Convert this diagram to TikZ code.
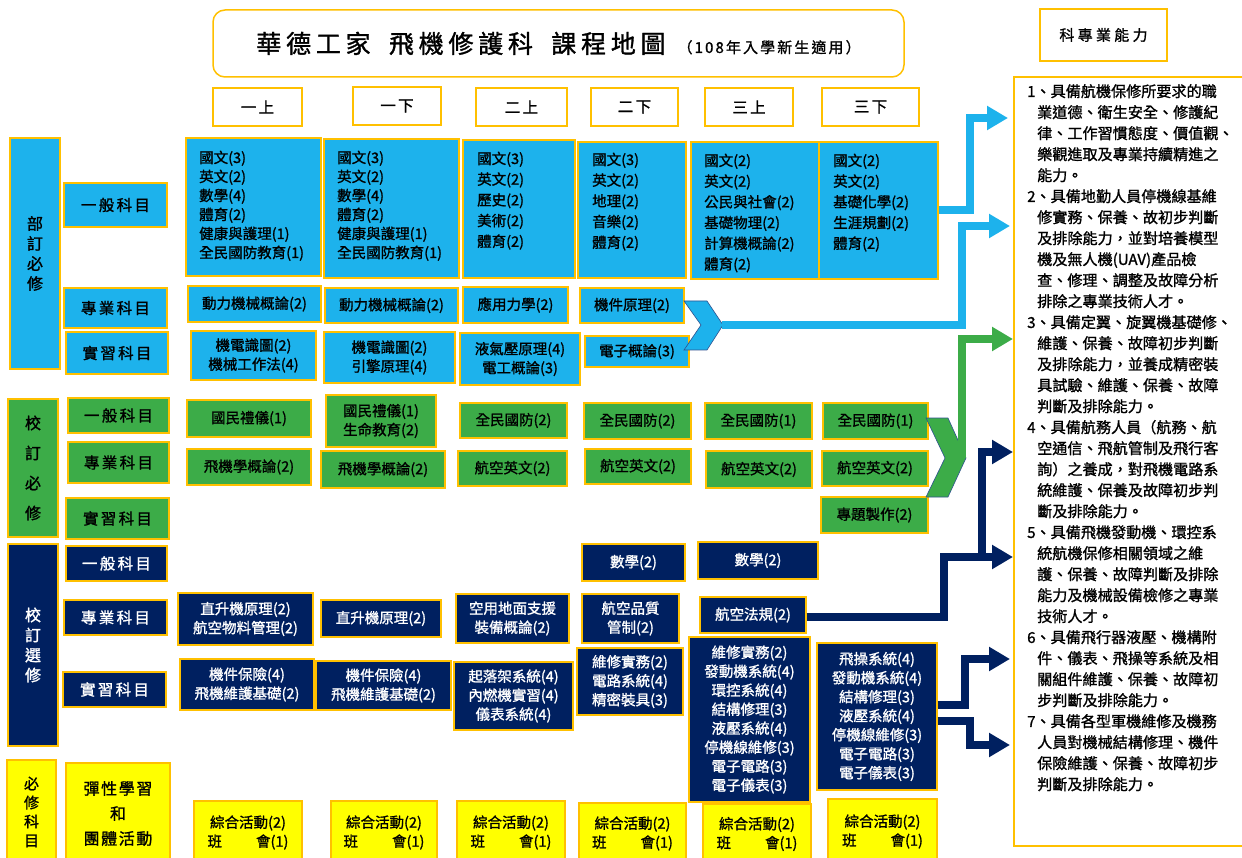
\documentclass[tikz,border=0pt]{standalone}
\usepackage{fontspec}
\setmainfont{Noto Sans CJK TC}[FakeBold=1.2]
\usetikzlibrary{arrows.meta}
\definecolor{lblue}{RGB}{29,178,236}
\definecolor{grn}{RGB}{60,172,72}
\definecolor{navy}{RGB}{0,32,96}
\definecolor{ylw}{RGB}{255,255,0}
\definecolor{gold}{RGB}{255,192,0}
\definecolor{chevb}{RGB}{47,82,143}
\newcommand\Bx[6]{\node[#2, minimum width=#5pt-#3pt, minimum height=#6pt-#4pt] (#1) at ({(#3+#5)/2},{(#4+#6)/2})}
\newcommand\ii{\hspace*{10pt}}
\begin{document}
\begin{tikzpicture}[x=1pt,y=-1pt,
  bx/.style={draw=gold, line width=1.3pt, inner sep=0pt, align=center},
  lb/.style={bx, fill=lblue},
  gn/.style={bx, fill=grn},
  nv/.style={bx, fill=navy, text=white},
  yl/.style={bx, fill=ylw},
  wb/.style={bx, fill=white},
  txt/.style={inner sep=0pt, align=left, anchor=north west},
  fa/.style={font=\fontsize{14.5}{19}\selectfont},
  fb/.style={font=\fontsize{14.5}{20.7}\selectfont},
  hd/.style={font=\fontsize{15.5}{19}\selectfont\addfontfeature{LetterSpace=15}},
  conn/.style={line width=8pt, line join=miter, -{Triangle[length=21pt,width=23pt]}},
]
\useasboundingbox (0,0) rectangle (1242,858);
\fill[white] (0,0) rectangle (1242,858);

% header
\Bx{title}{wb,rounded corners=12pt,line width=1.5pt}{213}{10}{904}{77}{{\fontsize{25}{25}\selectfont\addfontfeature{LetterSpace=19}華德工家\hspace{8pt} 飛機修護科\hspace{8pt} 課程地圖}\hspace{12pt}{\fontsize{15}{15}\selectfont\addfontfeature{LetterSpace=14}（108年入學新生適用）}};
\Bx{ability}{wb,font=\fontsize{15}{15}\selectfont\addfontfeature{LetterSpace=22}}{1040}{9}{1167}{61}{科專業能力};
\Bx{s1}{wb,hd}{213}{88}{302}{126}{一上};
\Bx{s2}{wb,hd}{353}{87}{441}{125}{一下};
\Bx{s3}{wb,hd}{476}{88}{567}{126}{二上};
\Bx{s4}{wb,hd}{591}{88}{678}{126}{二下};
\Bx{s5}{wb,hd}{705}{88}{793}{126}{三上};
\Bx{s6}{wb,hd}{822}{88}{919}{126}{三下};

% right panel
\Bx{panel}{wb}{1014}{77}{1252}{846}{};
\node[txt, font=\fontsize{15.1}{21}\selectfont] (paneltext) at (1027,84) {%
1、具備航機保修所要求的職\\
\ii 業道德、衛生安全、修護紀\\
\ii 律、工作習慣態度、價值觀、\\
\ii 樂觀進取及專業持續精進之\\
\ii 能力。\\
2、具備地勤人員停機線基維\\
\ii 修實務、保養、故初步判斷\\
\ii 及排除能力，並對培養模型\\
\ii 機及無人機(UAV)產品檢\\
\ii 查、修理、調整及故障分析\\
\ii 排除之專業技術人才。\\
3、具備定翼、旋翼機基礎修、\\
\ii 維護、保養、故障初步判斷\\
\ii 及排除能力，並養成精密裝\\
\ii 具試驗、維護、保養、故障\\
\ii 判斷及排除能力。\\
4、具備航務人員（航務、航\\
\ii 空通信、飛航管制及飛行客\\
\ii 詢）之養成，對飛機電路系\\
\ii 統維護、保養及故障初步判\\
\ii 斷及排除能力。\\
5、具備飛機發動機、環控系\\
\ii 統航機保修相關領域之維\\
\ii 護、保養、故障判斷及排除\\
\ii 能力及機械設備檢修之專業\\
\ii 技術人才。\\
6、具備飛行器液壓、機構附\\
\ii 件、儀表、飛操等系統及相\\
\ii 關組件維護、保養、故障初\\
\ii 步判斷及排除能力。\\
7、具備各型軍機維修及機務\\
\ii 人員對機械結構修理、機件\\
\ii 保險維護、保養、故障初步\\
\ii 判斷及排除能力。};

% 部訂必修
\Bx{bd}{lb,font=\fontsize{16}{20}\selectfont}{10}{138}{60}{369}{部\\訂\\必\\修};
\Bx{bd1}{lb,hd}{64}{183}{167}{227}{一般科目};
\Bx{bd2}{lb,hd}{64}{288}{167}{328}{專業科目};
\Bx{bd3}{lb,hd}{66}{332}{168}{374}{實習科目};

\Bx{g1}{lb}{186}{138}{321}{276}{};
\Bx{g2}{lb}{324}{139}{459}{278}{};
\Bx{g3}{lb}{463}{140}{575}{278}{};
\Bx{g4}{lb}{578}{142}{686}{278}{};
\Bx{g5}{lb}{691}{142}{819}{279}{};
\Bx{g6}{lb}{819}{142}{938}{279}{};
\node[txt,fa] (g1t) at (199,150.5) {國文(3)\\英文(2)\\數學(4)\\體育(2)\\健康與護理(1)\\全民國防教育(1)};
\node[txt,fa] (g2t) at (337,150.5) {國文(3)\\英文(2)\\數學(4)\\體育(2)\\健康與護理(1)\\全民國防教育(1)};
\node[txt,fb] (g3t) at (477,151.5) {國文(3)\\英文(2)\\歷史(2)\\美術(2)\\體育(2)};
\node[txt,fb] (g4t) at (592,152.5) {國文(3)\\英文(2)\\地理(2)\\音樂(2)\\體育(2)};
\node[txt,fb] (g5t) at (704,153.5) {國文(2)\\英文(2)\\公民與社會(2)\\基礎物理(2)\\計算機概論(2)\\體育(2)};
\node[txt,fb] (g6t) at (833,153.5) {國文(2)\\英文(2)\\基礎化學(2)\\生涯規劃(2)\\體育(2)};

\Bx{p1}{lb,fa}{188}{286}{321}{322}{動力機械概論(2)};
\Bx{p2}{lb,fa}{325}{288}{458}{323}{動力機械概論(2)};
\Bx{p3}{lb,fa}{463}{287}{568}{323}{應用力學(2)};
\Bx{p4}{lb,fa}{580}{288}{684}{323}{機件原理(2)};
\Bx{r1}{lb,fa}{191}{331}{316}{380}{機電識圖(2)\\機械工作法(4)};
\Bx{r2}{lb,fa}{324}{332}{455}{383}{機電識圖(2)\\引擎原理(4)};
\Bx{r3}{lb,fa}{460}{333}{580}{385}{液氣壓原理(4)\\電工概論(3)};
\Bx{r4}{lb,fa}{585}{336}{689}{367}{電子概論(3)};

% 校訂必修
\Bx{gl}{gn,font=\fontsize{16}{30}\selectfont}{8}{399}{58}{537}{校\\訂\\必\\修};
\Bx{gl1}{gn,hd}{68}{398}{169}{433}{一般科目};
\Bx{gl2}{gn,hd}{68}{442}{169}{483}{專業科目};
\Bx{gl3}{gn,hd}{66}{498}{169}{539}{實習科目};
\Bx{c1}{gn,fa}{187}{400}{311}{437}{國民禮儀(1)};
\Bx{c2}{gn,fa}{326}{395}{436}{447}{國民禮儀(1)\\生命教育(2)};
\Bx{c3}{gn,fa}{460}{403}{567}{438}{全民國防(2)};
\Bx{c4}{gn,fa}{584}{403}{691}{439}{全民國防(2)};
\Bx{c5}{gn,fa}{705}{403}{812}{439}{全民國防(1)};
\Bx{c6}{gn,fa}{823}{403}{928}{439}{全民國防(1)};
\Bx{e1}{gn,fa}{187}{449}{311}{485}{飛機學概論(2)};
\Bx{e2}{gn,fa}{321}{451}{445}{488}{飛機學概論(2)};
\Bx{e3}{gn,fa}{458}{451}{567}{486}{航空英文(2)};
\Bx{e4}{gn,fa}{585}{449}{691}{484}{航空英文(2)};
\Bx{e5}{gn,fa}{706}{451}{812}{488}{航空英文(2)};
\Bx{e6}{gn,fa}{822}{451}{928}{486}{航空英文(2)};
\Bx{x6}{gn,fa}{821}{497}{928}{533}{專題製作(2)};

% 校訂選修
\Bx{nl}{nv,font=\fontsize{16}{20}\selectfont}{8}{544}{58}{746}{校\\訂\\選\\修};
\Bx{nl1}{nv,hd}{66}{546}{167}{581}{一般科目};
\Bx{nl2}{nv,hd}{64}{600}{167}{635}{專業科目};
\Bx{nl3}{nv,hd}{63}{672}{166}{707}{實習科目};
\Bx{m4}{nv,fa}{582}{544}{685}{581}{數學(2)};
\Bx{m5}{nv,fa}{698}{542}{818}{579}{數學(2)};
\Bx{q1}{nv,fa}{178}{593}{313}{645}{直升機原理(2)\\航空物料管理(2)};
\Bx{q2}{nv,fa}{321}{600}{441}{637}{直升機原理(2)};
\Bx{q3}{nv,fa}{456}{594}{569}{643}{空用地面支援\\裝備概論(2)};
\Bx{q4}{nv,fa}{582}{594}{679}{643}{航空品質\\管制(2)};
\Bx{law}{nv,fa}{700}{597}{806}{633}{航空法規(2)};
\Bx{k1}{nv,fa}{180}{659}{314}{710}{機件保險(4)\\飛機維護基礎(2)};
\Bx{k2}{nv,fa}{316}{661}{451}{710}{機件保險(4)\\飛機維護基礎(2)};
\Bx{k3}{nv,fa}{454}{662}{573}{730}{起落架系統(4)\\內燃機實習(4)\\儀表系統(4)};
\Bx{k4}{nv,fa}{577}{648}{683}{715}{維修實務(2)\\電路系統(4)\\精密裝具(3)};
\Bx{k5}{nv,fa}{689}{637}{810}{802}{維修實務(2)\\發動機系統(4)\\環控系統(4)\\結構修理(3)\\液壓系統(4)\\停機線維修(3)\\電子電路(3)\\電子儀表(3)};
\Bx{k6}{nv,fa}{817}{643}{937}{790}{飛操系統(4)\\發動機系統(4)\\結構修理(3)\\液壓系統(4)\\停機線維修(3)\\電子電路(3)\\電子儀表(3)};

% 必修科目
\Bx{yl}{yl,font=\fontsize{15}{19}\selectfont}{7}{760}{56}{864}{必\\修\\科\\目};
\Bx{yl1}{yl,font=\fontsize{16}{25}\selectfont\addfontfeature{LetterSpace=10}}{66}{763}{170}{864}{彈性學習\\和\\團體活動};
\Bx{y1}{yl,fa}{194}{801}{302}{864}{綜合活動(2)\\班\hspace{34pt}會(1)};
\Bx{y2}{yl,fa}{331}{801}{437}{864}{綜合活動(2)\\班\hspace{34pt}會(1)};
\Bx{y3}{yl,fa}{457}{801}{565}{864}{綜合活動(2)\\班\hspace{34pt}會(1)};
\Bx{y4}{yl,fa}{579}{803}{686}{864}{綜合活動(2)\\班\hspace{34pt}會(1)};
\Bx{y5}{yl,fa}{703}{804}{811}{864}{綜合活動(2)\\班\hspace{34pt}會(1)};
\Bx{y6}{yl,fa}{828}{799}{937}{864}{綜合活動(2)\\班\hspace{34pt}會(1)};

% chevrons
\filldraw[fill=lblue, draw=chevb, line width=0.6pt] (684,301) -- (707,301) -- (723,325) -- (707,350) -- (684,350) -- (701,325) -- cycle;
\filldraw[fill=grn, draw=chevb, line width=0.6pt] (926,418) -- (948,418) -- (966,458) -- (948,497) -- (926,497) -- (945,458) -- cycle;
\coordinate (lbtip) at (722,325);
\coordinate (grtip) at (962,458);

% connectors
\coordinate (a1) at (970,210);
\coordinate (t1) at (1008,118);
\coordinate (b2) at (962,226);
\coordinate (t2) at (1010,226);
\coordinate (t3) at (1013,339);
\coordinate (nA) at (944,557);
\coordinate (nB) at (982,557);
\coordinate (t4) at (1013,452);
\coordinate (t5) at (1013,557);
\coordinate (nC) at (965,705);
\coordinate (t6) at (1010,659);
\coordinate (nD) at (970,721);
\coordinate (t7) at (1010,745);
\draw[conn, lblue] (g6.east |- a1) -- (a1) |- (t1);
\draw[conn, lblue] (lbtip) -| (b2) -- (t2);
\draw[conn, grn] (grtip) |- (t3);
\draw[conn, navy] (law.east |- 0,617) -| (nA) -- (t5);
\draw[conn, navy] (nB) |- (t4);
\draw[conn, navy] (k6.east |- nC) -- (nC) |- (t6);
\draw[conn, navy] (k6.east |- nD) -- (nD) |- (t7);
\end{tikzpicture}
\end{document}
